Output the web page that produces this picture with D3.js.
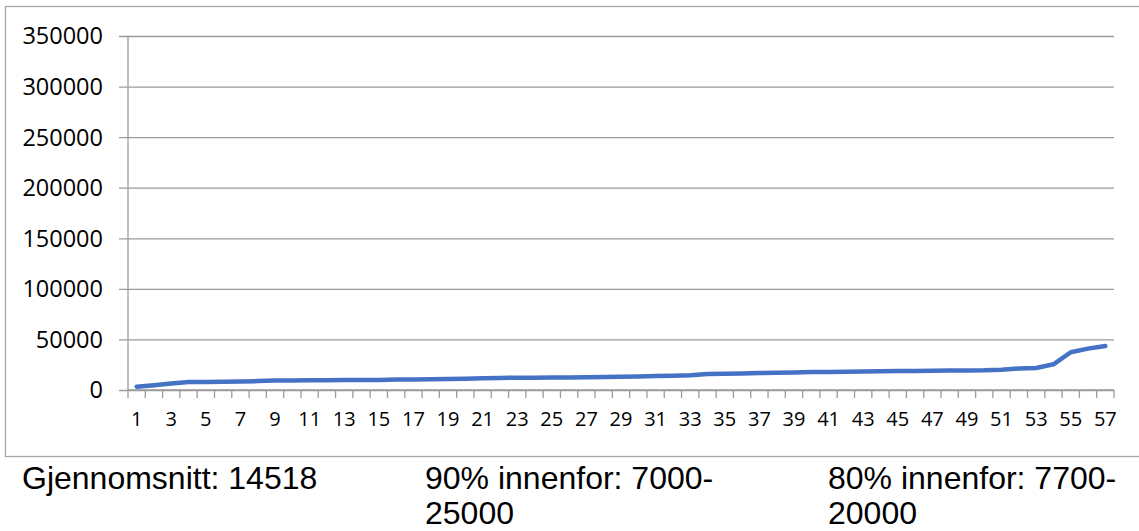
<!DOCTYPE html>
<html>
<head>
<meta charset="utf-8">
<script src="https://cdn.jsdelivr.net/npm/d3@7"></script>
<style>
  body { margin: 0; background: white; }
</style>
</head>
<body>
<div id="viz-container"></div>
<script>
// values, one per category 1..57
let categories = d3.range(1, 58);
let values = [
  3300, 4800, 6500, 7800, 8000, 8100, 8300, 8800, 9300, 9500,
  9600, 9700, 9800, 9900, 10000, 10300, 10500, 10700, 10900, 11100,
  11600, 11900, 12100, 12200, 12300, 12400, 12500, 12900, 13100, 13400,
  13800, 14200, 14700, 15700, 16000, 16300, 16700, 17000, 17400, 17700,
  17800, 18100, 18400, 18600, 18800, 18900, 19000, 19200, 19400, 19500,
  20100, 21300, 21700, 25400, 37300, 40900, 43500
];
let yTicks = [0, 50000, 100000, 150000, 200000, 250000, 300000, 350000];
let xLabels = categories.filter(c => c % 2 === 1);
let notes = [
  ["Gjennomsnitt: 14518"],
  ["90% innenfor: 7000-", "25000"],
  ["80% innenfor: 7700-", "20000"]
];

let width = 1139, height = 531;
let plotLeft = 128, plotRight = 1114, plotTop = 36, plotBottom = 390;

let viz = d3.select("#viz-container")
  .append("svg")
    .attr("width", width)
    .attr("height", height)
    .attr("font-family", "'Open Sans', sans-serif");

// chart frame
viz.append("rect")
  .attr("x", 5.5).attr("y", 6.5)
  .attr("width", 1140).attr("height", 450)
  .attr("fill", "white")
  .attr("stroke", "#a6a6a6")
  .attr("stroke-width", 1.3);

let x = d3.scaleBand().domain(categories).range([plotLeft, plotRight]).padding(0);
let y = d3.scaleLinear().domain([0, 350000]).range([plotBottom, plotTop]);

// gridlines + y ticks
viz.append("g")
  .attr("transform", "translate(" + plotLeft + ",0)")
  .call(d3.axisLeft(y).tickValues(yTicks).tickSize(-(plotRight - plotLeft)).tickFormat(""))
  .call(g => g.select(".domain").remove())
  .call(g => g.selectAll("line").attr("stroke", "#9b9b9b").attr("stroke-width", 1.3).attr("x1", -9));

// y labels
viz.append("g")
  .selectAll("text")
  .data(yTicks)
  .enter()
  .append("text")
    .attr("x", 103)
    .attr("y", d => y(d))
    .attr("dy", "0.36em")
    .attr("text-anchor", "end")
    .attr("font-size", 23.5)
    .attr("fill", "#000")
    .text(d => d);

// y axis line
viz.append("line")
  .attr("x1", plotLeft).attr("x2", plotLeft)
  .attr("y1", plotTop).attr("y2", plotBottom)
  .attr("stroke", "#9b9b9b").attr("stroke-width", 1.3);

// x axis line and ticks on category boundaries
let bounds = categories.map(c => x(c)).concat([plotRight]);
viz.append("line")
  .attr("x1", plotLeft).attr("x2", plotRight)
  .attr("y1", plotBottom).attr("y2", plotBottom)
  .attr("stroke", "#9b9b9b").attr("stroke-width", 1.3);

viz.append("g")
  .selectAll("line")
  .data(bounds)
  .enter()
  .append("line")
    .attr("x1", d => d).attr("x2", d => d)
    .attr("y1", plotBottom).attr("y2", plotBottom + 8)
    .attr("stroke", "#9b9b9b").attr("stroke-width", 1.3);

// x labels through the axis generator
viz.append("g")
  .attr("class", "x-labels")
  .attr("transform", "translate(0," + plotBottom + ")")
  .call(d3.axisBottom(x).tickValues(xLabels).tickSize(0).tickPadding(36))
  .call(g => g.select(".domain").remove())
  .call(g => g.selectAll("text")
    .attr("font-family", "'Open Sans', sans-serif")
    .attr("font-size", 20)
    .attr("fill", "#000")
    .attr("dy", 0));

// the series
let line = d3.line()
  .x((d, i) => x(categories[i]) + x.bandwidth() / 2)
  .y(d => y(d));

viz.append("path")
  .datum(values)
  .attr("d", line)
  .attr("fill", "none")
  .attr("stroke", "#4472c4")
  .attr("stroke-width", 4.5)
  .attr("stroke-linejoin", "round")
  .attr("stroke-linecap", "round");

// notes under the chart
let noteX = [22, 425, 828];
notes.forEach((lines, i) => {
  lines.forEach((t, j) => {
    viz.append("text")
      .attr("x", noteX[i])
      .attr("y", 489 + j * 35)
      .attr("font-family", "'Liberation Sans', Arial, sans-serif")
      .attr("font-size", 32)
      .attr("fill", "#000")
      .text(t);
  });
});
</script>
</body>
</html>
